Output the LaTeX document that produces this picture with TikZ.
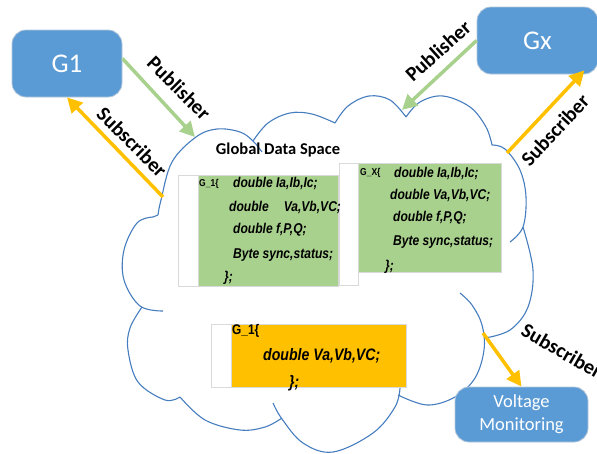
\documentclass[tikz,border=0pt]{standalone}
\usepackage{fontspec}
\setmainfont{Carlito}
\newfontfamily\codefont[FakeStretch=0.85]{Liberation Sans}
\usetikzlibrary{arrows.meta}
\definecolor{boxblue}{RGB}{91,155,213}
\definecolor{pubgreen}{RGB}{169,209,142}
\definecolor{subyellow}{RGB}{255,192,0}
\definecolor{cloudblue}{RGB}{70,125,190}
\definecolor{edgegray}{RGB}{217,217,217}

\begin{document}
\begin{tikzpicture}[x=1pt,y=1pt,>={Triangle[length=15pt,width=15pt]},
    gbox/.style={rounded corners=14pt,fill=boxblue,draw=edgegray!70!boxblue,
        line width=0.8pt,text=white,inner sep=0pt},
    pub/.style={->,draw=pubgreen,fill=pubgreen,line width=3.5pt},
    sub/.style={->,draw=subyellow,fill=subyellow,line width=3.5pt},
    arrlabel/.style={font=\fontsize{20.5}{20.5}\selectfont\bfseries,inner sep=0pt},
    lobe/.style={draw=cloudblue,line width=1.1pt,smooth,tension=0.6},
    codebox/.style={fill=white,draw=edgegray,line width=0.6pt},
    code/.style={anchor=west,inner sep=0pt,
        font=\codefont\fontsize{14.2}{14.2}\selectfont\bfseries\itshape},
    bigcode/.style={code,font=\codefont\fontsize{16.6}{16.6}\selectfont\bfseries\itshape},
    tag/.style={anchor=west,inner sep=0pt,
        font=\codefont\fontsize{10}{10}\selectfont\bfseries}]
    \useasboundingbox (0,0) rectangle (597,-453);

    % cloud
    \draw[lobe] plot coordinates {(158,-215) (161,-200) (172,-162) (196,-137)
        (217,-129) (240,-132) (253,-141) (262,-152)};
    \draw[lobe] (158,-215) -- (153,-217);
    \draw[lobe] plot coordinates {(253,-141) (268,-123) (290,-113) (312,-114) (335,-123)};
    \draw[lobe] plot coordinates {(335,-123) (348,-106) (369,-96) (390,-100) (406,-117)};
    \draw[lobe] plot coordinates {(406,-117) (420,-102) (443,-96) (470,-107)
        (486,-127) (492,-145)};
    \draw[lobe] plot coordinates {(492,-145) (505,-149) (520,-170) (526,-197)
        (523,-227) (510,-242)};
    \draw[lobe] plot coordinates {(523,-227) (533,-270) (528,-307) (510,-330) (485,-338)};
    \draw[lobe] plot coordinates {(398,-395) (427,-405) (455,-397) (475,-378)
        (484,-350) (482,-325) (472,-305) (460,-293)};
    \draw[lobe] plot coordinates {(273,-403) (282,-419) (303,-443) (333,-452)
        (373,-433) (395,-407) (400,-388)};
    \draw[lobe] plot coordinates {(180,-397) (205,-420) (240,-430) (265,-427) (282,-418)};
    \draw[lobe] plot coordinates {(142,-307) (130,-328) (128,-350) (138,-382)
        (165,-400) (180,-397)};
    \draw[lobe] plot coordinates {(153,-217) (137,-223) (124,-250) (124,-280)
        (140,-306) (163,-311)};

    \node[font=\fontsize{16.5}{16.5}\selectfont\bfseries] (gds) at (278,-150)
        {Global Data Space};

    % groups
    \node[gbox,minimum width=110pt,minimum height=67pt,
        font=\fontsize{27}{27}\selectfont] (G1) at (67,-63.5) {G1};
    \node[gbox,minimum width=121pt,minimum height=67pt,
        font=\fontsize{27}{27}\selectfont] (Gx) at (537.5,-40.5) {Gx};
    \node[gbox,minimum width=133pt,minimum height=55pt,align=center,
        font=\fontsize{18.5}{23}\selectfont] (vm) at (521.5,-414.5)
        {Voltage\\Monitoring};

    % data blocks
    \filldraw[codebox] (178,-175) rectangle (338,-286);
    \filldraw[fill=pubgreen,draw=edgegray] (198,-175) rectangle (338,-286);
    \filldraw[codebox] (339,-163) rectangle (358,-285);
    \filldraw[fill=pubgreen,draw=edgegray] (358,-163) rectangle (501,-272);
    \filldraw[codebox] (211,-324) rectangle (406,-387);
    \filldraw[fill=subyellow,draw=edgegray] (231,-324) rectangle (406,-387);

    \node[tag] (tagA) at (199,-184) {G\_1\{};
    \node[code] (a1) at (233,-183) {double Ia,Ib,Ic;};
    \node[code] (a2) at (229,-207) {double\hspace{15pt}Va,Vb,VC;};
    \node[code] (a3) at (233,-230) {double f,P,Q;};
    \node[code] (a4) at (233,-255) {Byte sync,status;};
    \node[code] (a5) at (224,-278) {\};};

    \node[tag] (tagX) at (360,-173) {G\_X\{};
    \node[code] (x1) at (394,-173) {double Ia,Ib,Ic;};
    \node[code] (x2) at (390,-195) {double Va,Vb,VC;};
    \node[code] (x3) at (393,-218) {double f,P,Q;};
    \node[code] (x4) at (393,-242) {Byte sync,status;};
    \node[code] (x5) at (385,-267) {\};};

    \node[tag,font=\codefont\fontsize{14}{14}\selectfont\bfseries] (tagB)
        at (232,-331) {G\_1\{};
    \node[bigcode] (b1) at (263,-356) {double Va,Vb,VC;};
    \node[bigcode] (b2) at (289,-383) {\};};

    % links
    \coordinate (pubIn1) at (195,-137);
    \coordinate (subOut1) at (163,-197);
    \coordinate (pubIn2) at (402,-110);
    \coordinate (subOut2) at (507,-153);
    \coordinate (subOut3) at (483,-333);

    \draw[pub] ([yshift=5pt]G1.east) -- (pubIn1);
    \draw[sub] (subOut1) -- (G1.south);
    \draw[pub] (Gx.west) -- (pubIn2);
    \draw[sub] (subOut2) -- ([xshift=-14pt,yshift=4pt]Gx.south east);
    \draw[sub] (subOut3) -- (vm.north);

    \node[arrlabel,rotate=-45] (lp1) at (179,-88) {Publisher};
    \node[arrlabel,rotate=-45] (ls1) at (132,-142) {Subscriber};
    \node[arrlabel,rotate=42] (lp2) at (438,-51) {Publisher};
    \node[arrlabel,rotate=47] (ls2) at (555,-130) {Subscriber};
    \node[arrlabel,rotate=-30] (ls3) at (562,-351) {Subscriber};
\end{tikzpicture}
\end{document}
